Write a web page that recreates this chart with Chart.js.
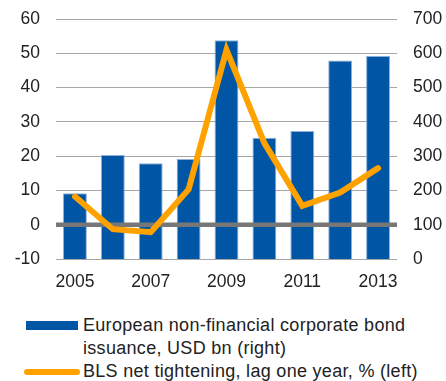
<!DOCTYPE html>
<html>
<head>
<meta charset="utf-8">
<script src="https://cdn.jsdelivr.net/npm/chart.js@4"></script>
<style>
  html, body { margin: 0; padding: 0; background: #fff; overflow: hidden; }
  #wrap { position: relative; width: 446px; height: 381px; font-family: 'Liberation Sans', Arial, sans-serif; color: #222; }
  #chartBox { position: absolute; left: 0; top: 0; width: 446px; height: 300px; }
  .sw { position: absolute; }
  .lg { position: absolute; left: 83px; font-size: 18px; letter-spacing: 0.3px; line-height: 23px; white-space: nowrap; }
</style>
</head>
<body>
<div id="wrap">
  <div id="chartBox"><canvas id="bondChart"></canvas></div>
  <div class="sw" style="left:26px;top:321px;width:52px;height:9px;background:#0055A5;"></div>
  <div class="lg" style="top:314px;">European non-financial corporate bond<br>issuance, USD bn (right)</div>
  <div class="sw" style="left:24px;top:369px;width:56px;height:6px;border-radius:3px;background:#FFA200;"></div>
  <div class="lg" style="top:360px;">BLS net tightening, lag one year, % (left)</div>
</div>
<script>
'use strict';

// ---- Data ----
const years = ['2005', '2006', '2007', '2008', '2009', '2010', '2011', '2012', '2013'];
const bondIssuance = [192, 303, 279, 292, 638, 354, 373, 579, 592];   // USD bn, right axis
const blsTightening = [8.2, -1.3, -2.2, 10.3, 51, 23.8, 5.5, 9.4, 16.5]; // %, left axis
const leftTicks = [-10, 0, 10, 20, 30, 40, 50, 60];
const rightTicks = [0, 100, 200, 300, 400, 500, 600, 700];

const FONT = { family: "'Liberation Sans', Arial, sans-serif", size: 17.5 };

// zero line sits above the bars but under the orange line
const zeroLine = {
  id: 'zeroLine',
  afterDatasetDraw(chart, args) {
    if (args.index !== 0) return;
    const y = chart.scales.y.getPixelForValue(0);
    const { left, right } = chart.chartArea;
    const c = chart.ctx;
    c.save();
    c.strokeStyle = '#777777';
    c.lineWidth = 4.5;
    c.beginPath();
    c.moveTo(left, y);
    c.lineTo(right, y);
    c.stroke();
    c.restore();
  },
};

// fixed axis widths; drop the vertical tick padding so layout.padding sets the top
const fixWidth = w => s => {
  s.width = w;
  s.paddingTop = 0;
  s.paddingBottom = 0;
};

new Chart(document.getElementById('bondChart'), {
  type: 'bar',
  data: {
    labels: years,
    datasets: [
      {
        type: 'bar',
        label: 'European non-financial corporate bond issuance, USD bn (right)',
        data: bondIssuance,
        yAxisID: 'y1',
        backgroundColor: '#0055A5',
        borderColor: 'rgba(130,165,215,0.9)',
        borderWidth: 1,
        categoryPercentage: 1,
        barPercentage: 0.63,
        order: 2,
      },
      {
        type: 'line',
        label: 'BLS net tightening, lag one year, % (left)',
        data: blsTightening,
        yAxisID: 'y',
        borderColor: '#FFA200',
        borderWidth: 6,
        borderCapStyle: 'round',
        pointRadius: 0,
        tension: 0,
        fill: false,
        order: 1,
      },
    ],
  },
  options: {
    responsive: true,
    maintainAspectRatio: false,
    animation: false,
    layout: { padding: { top: 19, left: 0, right: 0, bottom: 0 } },
    plugins: { legend: { display: false }, tooltip: { enabled: false } },
    scales: {
      x: {
        grid: { display: false, drawTicks: false },
        border: { display: false },
        ticks: {
          color: '#222',
          font: FONT,
          padding: 13,
          maxRotation: 0,
          autoSkip: false,
          callback: (v, i) => (i % 2 === 0 ? years[i] : ''),
        },
        afterFit: s => { s.height = 41; },
      },
      y: {
        position: 'left',
        min: -10,
        max: 60,
        afterBuildTicks: s => { s.ticks = leftTicks.map(v => ({ value: v })); },
        grid: { color: '#A6A6A6', lineWidth: 1, drawTicks: false },
        border: { display: false },
        ticks: { color: '#222', font: FONT, padding: 16 },
        afterFit: fixWidth(56),
      },
      y1: {
        position: 'right',
        min: 0,
        max: 700,
        afterBuildTicks: s => { s.ticks = rightTicks.map(v => ({ value: v })); },
        grid: { display: false, drawTicks: false },
        border: { display: false },
        ticks: { color: '#222', font: FONT, padding: 16 },
        afterFit: fixWidth(49),
      },
    },
  },
  plugins: [zeroLine],
});
</script>
</body>
</html>
